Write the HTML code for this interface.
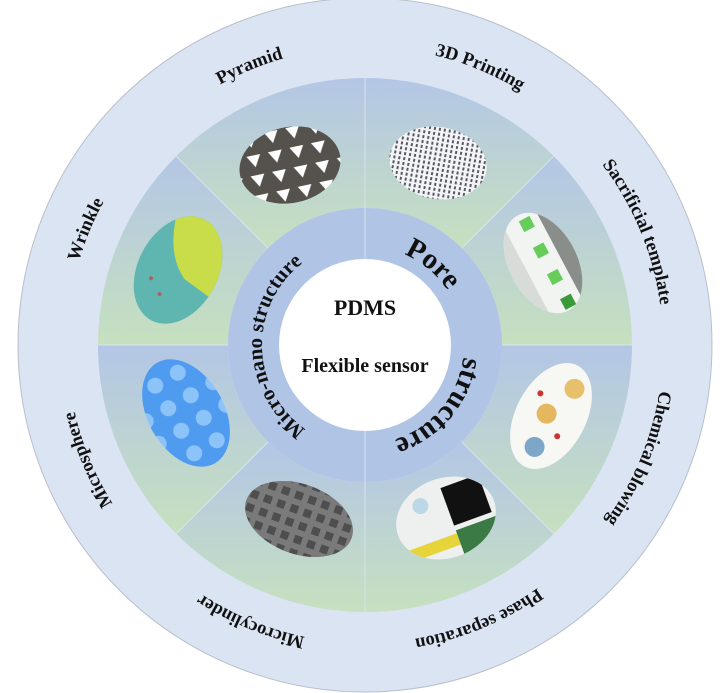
<!DOCTYPE html>
<html><head><meta charset="utf-8"><style>
html,body{margin:0;padding:0;background:#fff;width:726px;height:693px;overflow:hidden}
svg{display:block}
.o{font-family:"Liberation Serif",serif;font-weight:bold;font-size:18.5px;fill:#111}
</style></head><body>
<svg width="726" height="693" viewBox="0 0 726 693" xmlns="http://www.w3.org/2000/svg">
<defs>
<linearGradient id="sg" x1="0" y1="0" x2="0" y2="1"><stop offset="0" stop-color="#b3c6e6"/><stop offset="1" stop-color="#c6e0bf"/></linearGradient>
<path id="po" d="M365,47 A298,298 0 1 1 365,643 A298,298 0 1 1 365,47"/>
<path id="pi" d="M365,246 A99,99 0 1 1 365,444 A99,99 0 1 1 365,246"/>
<path id="pl" d="M365,242 A103,103 0 1 1 365,448 A103,103 0 1 1 365,242"/>
<pattern id="tri" width="22" height="20" patternUnits="userSpaceOnUse"><rect width="22" height="20" fill="#55524d"/><polygon points="3,3 17,3 10,15" fill="#fff"/></pattern>
<pattern id="hat" width="5" height="5" patternUnits="userSpaceOnUse"><rect width="5" height="5" fill="#f4f4f6"/><rect x="0" y="0" width="2" height="3" fill="#555a66"/></pattern>
<pattern id="cyl" width="14" height="14" patternUnits="userSpaceOnUse"><rect width="14" height="14" fill="#7a7a7a"/><rect x="2" y="2" width="8" height="8" fill="#4e4e4e"/></pattern>
<pattern id="sph" width="26" height="26" patternUnits="userSpaceOnUse"><rect width="26" height="26" fill="#4f9bf0"/><circle cx="13" cy="13" r="8" fill="#8cc4fa"/></pattern>
</defs>
<circle cx="365" cy="345" r="347" fill="#dae4f3" stroke="#b9bfca" stroke-width="1"/>
<g fill="url(#sg)">
<path d="M365,78 A267,267 0 0 1 553.8,156.2 L461.9,248.1 A137,137 0 0 0 365,208 Z"/>
<path d="M553.8,156.2 A267,267 0 0 1 632,345 L502,345 A137,137 0 0 0 461.9,248.1 Z"/>
<path d="M632,345 A267,267 0 0 1 553.8,533.8 L461.9,441.9 A137,137 0 0 0 502,345 Z"/>
<path d="M553.8,533.8 A267,267 0 0 1 365,612 L365,482 A137,137 0 0 0 461.9,441.9 Z"/>
<path d="M365,612 A267,267 0 0 1 176.2,533.8 L268.1,441.9 A137,137 0 0 0 365,482 Z"/>
<path d="M176.2,533.8 A267,267 0 0 1 98,345 L228,345 A137,137 0 0 0 268.1,441.9 Z"/>
<path d="M98,345 A267,267 0 0 1 176.2,156.2 L268.1,248.1 A137,137 0 0 0 228,345 Z"/>
<path d="M176.2,156.2 A267,267 0 0 1 365,78 L365,208 A137,137 0 0 0 268.1,248.1 Z"/>
</g>
<g stroke="#d8e4ee" stroke-width="1">
<line x1="553.8" y1="156.2" x2="461.9" y2="248.1"/><line x1="553.8" y1="533.8" x2="461.9" y2="441.9"/>
<line x1="176.2" y1="533.8" x2="268.1" y2="441.9"/><line x1="176.2" y1="156.2" x2="268.1" y2="248.1"/>
<line x1="98" y1="345" x2="228" y2="345"/><line x1="502" y1="345" x2="632" y2="345"/>
</g>
<circle cx="365" cy="345" r="137" fill="#b0c4e6"/>
<line x1="365" y1="78" x2="365" y2="612" stroke="#d8e2ee" stroke-width="1"/>
<circle cx="365" cy="345" r="86" fill="#fff"/>
<g transform="translate(290,165) rotate(-12)"><ellipse rx="51" ry="38" fill="url(#tri)"/></g>
<g transform="translate(438,163) rotate(10)"><ellipse rx="49" ry="36" fill="url(#hat)"/></g>
<g transform="translate(178,270) rotate(-62)">
<clipPath id="cw"><ellipse rx="57" ry="40"/></clipPath>
<g clip-path="url(#cw)"><rect x="-60" y="-45" width="120" height="90" fill="#5fb6b1"/><path d="M-10,45 L-5,10 Q10,-20 60,-30 L60,45 Z" fill="#c9dc4a"/><circle cx="-20" cy="-20" r="2" fill="#b06060"/><circle cx="-30" cy="-5" r="2" fill="#b06060"/></g></g>
<g transform="translate(543,263) rotate(62)">
<clipPath id="cs"><ellipse rx="54" ry="34"/></clipPath>
<g clip-path="url(#cs)"><rect x="-60" y="-40" width="120" height="80" fill="#f2f4f2"/><rect x="-60" y="-40" width="120" height="22" fill="#8a8e8a"/><rect x="-48" y="-10" width="12" height="12" fill="#66cc5a"/><rect x="-18" y="-10" width="12" height="12" fill="#66cc5a"/><rect x="12" y="-10" width="12" height="12" fill="#66cc5a"/><rect x="40" y="-10" width="12" height="12" fill="#3a9a3a"/><rect x="-60" y="18" width="120" height="22" fill="#d8dcd8"/></g></g>
<g transform="translate(186,413) rotate(60)"><ellipse rx="58" ry="38" fill="url(#sph)"/></g>
<g transform="translate(551,416) rotate(-62)">
<clipPath id="cc"><ellipse rx="57" ry="35"/></clipPath>
<g clip-path="url(#cc)"><rect x="-60" y="-40" width="120" height="80" fill="#f7f7f4"/><circle cx="-35" cy="0" r="10" fill="#7ea6c9"/><circle cx="0" cy="-5" r="10" fill="#e5b860"/><circle cx="35" cy="8" r="10" fill="#e8bf6a"/><circle cx="15" cy="-20" r="3" fill="#cc3333"/><circle cx="-15" cy="15" r="3" fill="#cc3333"/></g></g>
<g transform="translate(299,519) rotate(20)"><ellipse rx="56" ry="35" fill="url(#cyl)"/></g>
<g transform="translate(446,518) rotate(-20)">
<clipPath id="cp"><ellipse rx="51" ry="40"/></clipPath>
<g clip-path="url(#cp)"><rect x="-55" y="-45" width="110" height="90" fill="#eef0f0"/><rect x="5" y="-30" width="40" height="40" fill="#111"/><rect x="-50" y="18" width="55" height="12" fill="#e6d43a"/><rect x="5" y="15" width="50" height="30" fill="#3c7a45"/><circle cx="-20" cy="-20" r="8" fill="#bcd8e6"/></g></g>
<text class="o"><textPath href="#po" startOffset="93.75%" text-anchor="middle">Pyramid</textPath></text>
<text class="o"><textPath href="#po" startOffset="6.25%" text-anchor="middle">3D Printing</textPath></text>
<text class="o"><textPath href="#po" startOffset="81.25%" text-anchor="middle">Wrinkle</textPath></text>
<text class="o"><textPath href="#po" startOffset="18.75%" text-anchor="middle">Sacrificial template</textPath></text>
<text class="o"><textPath href="#po" startOffset="68.75%" text-anchor="middle">Microsphere</textPath></text>
<text class="o"><textPath href="#po" startOffset="31.25%" text-anchor="middle">Chemical blowing</textPath></text>
<text class="o"><textPath href="#po" startOffset="56.25%" text-anchor="middle">Microcylinder</textPath></text>
<text class="o"><textPath href="#po" startOffset="43.75%" text-anchor="middle">Phase separation</textPath></text>
<text font-family="Liberation Serif,serif" font-weight="bold" font-size="29" fill="#111"><textPath href="#pi" startOffset="11.1%" text-anchor="middle">Pore</textPath></text>
<text font-family="Liberation Serif,serif" font-weight="bold" font-size="29" fill="#111"><textPath href="#pi" startOffset="36.1%" text-anchor="middle">structure</textPath></text>
<text font-family="Liberation Serif,serif" font-weight="bold" font-size="21" fill="#111"><textPath href="#pl" startOffset="74.7%" text-anchor="middle">Micro-nano structure</textPath></text>
<text x="365" y="315" text-anchor="middle" font-family="Liberation Serif,serif" font-weight="bold" font-size="22" fill="#111">PDMS</text>
<text x="365" y="372" text-anchor="middle" font-family="Liberation Serif,serif" font-weight="bold" font-size="20" fill="#111">Flexible sensor</text>
</svg>
</body></html>
